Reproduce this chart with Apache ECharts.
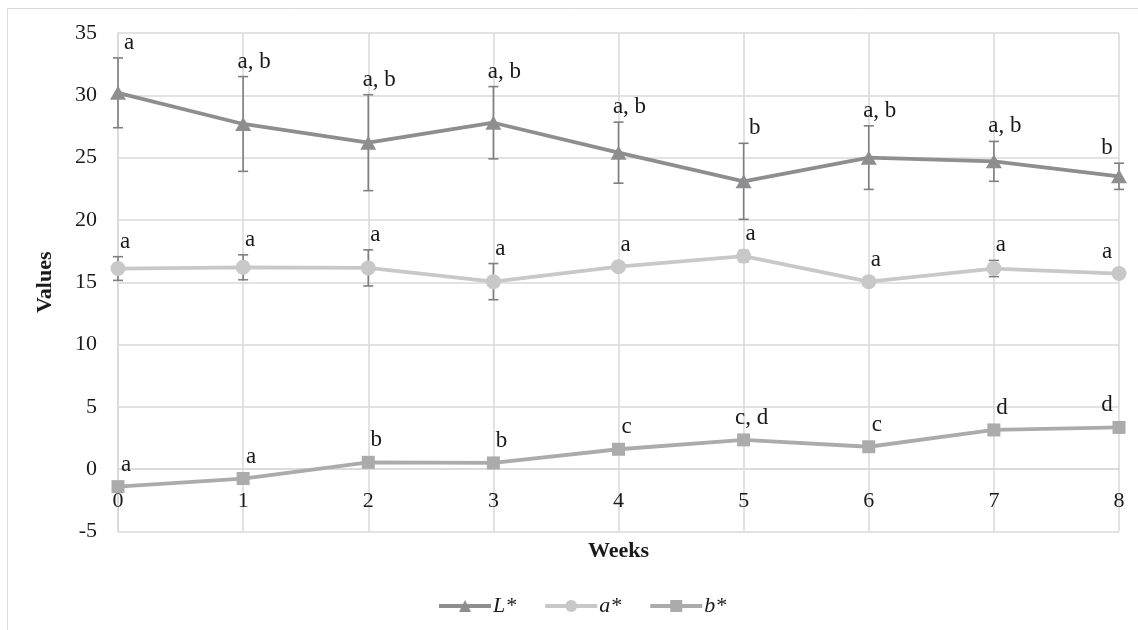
<!DOCTYPE html>
<html>
<head>
<meta charset="utf-8">
<script src="https://cdn.jsdelivr.net/npm/echarts@6/dist/echarts.min.js"></script>
<style>
html,body{margin:0;padding:0;background:#fff;}
#chart{width:1138px;height:630px;}
</style>
</head>
<body>
<div id="chart"></div>
<script>
const weeks = ['0','1','2','3','4','5','6','7','8'];
const yTicks = [-5, 0, 5, 10, 15, 20, 25, 30, 35];
const seriesNames = ['L*', 'a*', 'b*'];

const Lvals = [30.2, 27.7, 26.2, 27.8, 25.4, 23.1, 25.0, 24.7, 23.5];
const Lerr  = [2.8, 3.8, 3.85, 2.9, 2.45, 3.05, 2.55, 1.6, 1.05];
const Llet  = ['a', 'a, b', 'a, b', 'a, b', 'a, b', 'b', 'a, b', 'a, b', 'b'];

const aVals = [16.1, 16.2, 16.15, 15.05, 16.25, 17.1, 15.05, 16.1, 15.7];
const aErr  = [0.95, 1.0, 1.45, 1.45, 0, 0.45, 0, 0.65, 0];
const aLet  = ['a', 'a', 'a', 'a', 'a', 'a', 'a', 'a', 'a'];

const bVals = [-1.4, -0.75, 0.55, 0.5, 1.6, 2.35, 1.8, 3.15, 3.35];
const bErr  = [0, 0, 0, 0, 0, 0, 0, 0, 0];
const bLet  = ['a', 'a', 'b', 'b', 'c', 'c, d', 'c', 'd', 'd'];

const FONT = '"Liberation Serif", "Times New Roman", serif';
const colL = '#8e8e91', colA = '#c8c8c8', colB = '#ababab', colErr = '#7f7f7f';

const GRID_TOP = 33, GRID_BOTTOM = 98.5, CHART_H = 630;
const plotH = CHART_H - GRID_TOP - GRID_BOTTOM;
const yMin = yTicks[0], yMax = yTicks[yTicks.length - 1];
const zeroOffset = -(0 - yMin) / (yMax - yMin) * plotH;

function errSeries(vals, errs, letters, markerHalf, dx) {
  const data = vals.map((v, i) => [i, v, errs[i]]);
  return {
    type: 'custom',
    data: data,
    z: 1,
    silent: true,
    renderItem: function (params, api) {
      const i = params.dataIndex;
      const x = api.value(0), v = api.value(1), e = api.value(2);
      const c = api.coord([x, v]);
      const children = [];
      let anchor = c[1] - markerHalf;
      if (e > 0) {
        const t = api.coord([x, v + e]);
        const b = api.coord([x, v - e]);
        const st = { stroke: colErr, lineWidth: 1.6 };
        children.push({ type: 'line', shape: { x1: c[0], y1: t[1], x2: c[0], y2: b[1] }, style: st });
        children.push({ type: 'line', shape: { x1: c[0] - 5, y1: t[1], x2: c[0] + 5, y2: t[1] }, style: st });
        children.push({ type: 'line', shape: { x1: c[0] - 5, y1: b[1], x2: c[0] + 5, y2: b[1] }, style: st });
        anchor = Math.min(anchor, t[1]);
      }
      const last = i === weeks.length - 1;
      children.push({
        type: 'text',
        z2: 10,
        style: {
          x: c[0] + (last ? -12 : dx),
          y: anchor - 15,
          text: letters[i],
          fill: '#1a1a1a',
          font: '23px ' + FONT,
          textAlign: 'center',
          textVerticalAlign: 'middle'
        }
      });
      return { type: 'group', children: children };
    }
  };
}

const chart = echarts.init(document.getElementById('chart'), null, { renderer: 'canvas' });
chart.setOption({
  backgroundColor: '#fff',
  animation: false,
  textStyle: { fontFamily: FONT },
  graphic: [{
    type: 'rect',
    shape: { x: 7.5, y: 8.5, width: 1200, height: 700 },
    style: { fill: 'none', stroke: '#d9d9d9', lineWidth: 1 },
    silent: true
  }],
  grid: { left: 118, right: 19, top: GRID_TOP, bottom: GRID_BOTTOM },
  xAxis: {
    type: 'category',
    data: weeks,
    boundaryGap: false,
    offset: zeroOffset,
    name: 'Weeks',
    nameLocation: 'middle',
    nameGap: 71,
    nameTextStyle: { fontFamily: FONT, fontSize: 22, fontWeight: 'bold', color: '#1a1a1a' },
    axisLine: { onZero: false, lineStyle: { color: '#d9d9d9', width: 1.5 } },
    axisTick: { show: false },
    axisLabel: { fontFamily: FONT, fontSize: 22, color: '#1a1a1a', margin: 21 },
    splitLine: { show: true, lineStyle: { color: '#d9d9d9', width: 1.5 } }
  },
  yAxis: {
    type: 'value',
    min: yMin,
    max: yMax,
    interval: 5,
    name: 'Values',
    nameLocation: 'middle',
    nameRotate: 90,
    nameGap: 62,
    nameTextStyle: { fontFamily: FONT, fontSize: 22, fontWeight: 'bold', color: '#1a1a1a' },
    axisLine: { show: true, lineStyle: { color: '#d9d9d9', width: 1.5 } },
    axisTick: { show: false },
    axisLabel: { fontFamily: FONT, fontSize: 22, color: '#1a1a1a', margin: 21 },
    splitLine: { show: true, lineStyle: { color: '#d9d9d9', width: 1.5 } }
  },
  legend: {
    data: seriesNames,
    bottom: 8,
    left: 432,
    itemWidth: 52,
    itemHeight: 15,
    itemGap: 27,
    lineStyle: { width: 4 },
    textStyle: { fontFamily: FONT, fontSize: 22, fontStyle: 'italic', color: '#1a1a1a', padding: [0, 0, 0, -3] }
  },
  series: [
    errSeries(Lvals, Lerr, Llet, 7, 11),
    errSeries(aVals, aErr, aLet, 7, 7),
    errSeries(bVals, bErr, bLet, 7, 8),
    {
      name: seriesNames[0], type: 'line', data: Lvals, z: 3,
      symbol: 'triangle', symbolSize: [16, 14],
      lineStyle: { color: colL, width: 3.8 }, itemStyle: { color: colL }
    },
    {
      name: seriesNames[1], type: 'line', data: aVals, z: 3,
      symbol: 'circle', symbolSize: 15,
      lineStyle: { color: colA, width: 3.8 }, itemStyle: { color: colA }
    },
    {
      name: seriesNames[2], type: 'line', data: bVals, z: 3,
      symbol: 'rect', symbolSize: 13,
      lineStyle: { color: colB, width: 3.8 }, itemStyle: { color: colB }
    }
  ]
});
</script>
</body>
</html>
